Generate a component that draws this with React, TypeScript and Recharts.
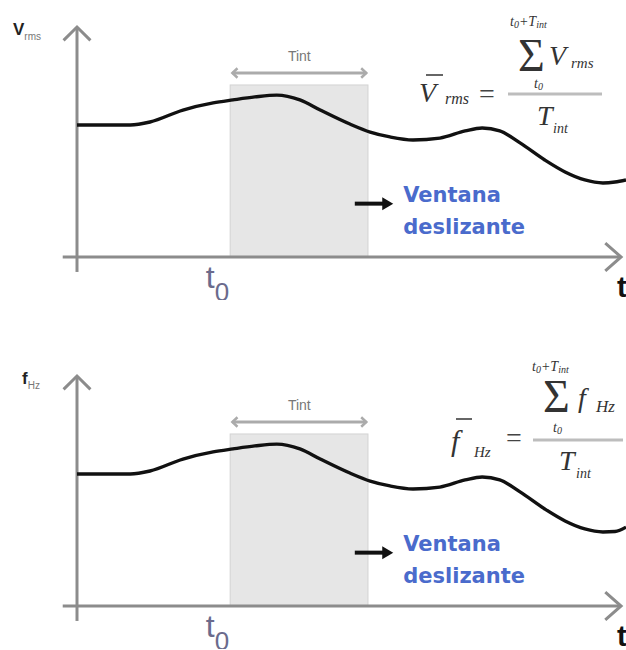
import React from 'react';
import { ComposedChart, Line, XAxis, YAxis, ReferenceLine, ReferenceArea } from 'recharts';

// time axis (arbitrary units, 0..100 across the plot)
const TIME = [0, 4.2, 9.7, 13.3, 19.3, 24.8, 28.4, 32.4, 36.4, 40.6, 44.3, 49.7, 53.4, 57.0, 61.2, 66.1, 70.7, 73.8, 77.0, 80.7, 85.2, 88.9, 92.5, 95.8, 98.0, 100];
// top panel: RMS voltage
const V_RMS = [57.4, 57.4, 57.4, 58.7, 63.9, 67.0, 68.3, 69.6, 70.4, 68.3, 63.9, 57.8, 54.3, 52.2, 50.9, 51.7, 54.8, 56.1, 54.8, 49.6, 42.2, 37.0, 33.5, 32.2, 32.6, 33.5];
// bottom panel: frequency
const F_HZ = [57.4, 57.4, 57.4, 58.7, 63.9, 67.0, 68.3, 69.6, 70.4, 68.3, 63.9, 57.8, 54.3, 52.2, 50.9, 51.7, 54.8, 56.1, 54.8, 49.6, 42.2, 37.0, 33.5, 32.2, 32.4, 34.3];

// sliding window
const WINDOW_START = 27.9;
const WINDOW_END = 53.0;
const WINDOW_TOP = 74.8;
const TINT_LEVEL = 80;
const ARROW_FROM = 50.6;
const ARROW_TO = 57.6;
const ARROW_LEVEL = 23.2;

const SANS = 'Liberation Sans, Arimo, Arial, sans-serif';
const SERIF = 'Liberation Serif, Tinos, DejaVu Serif, serif';
const AXIS = '#8c8c8c';

function chevron(x: number, y: number, ang: number, len: number, spread: number) {
  const a1 = ang + Math.PI - spread;
  const a2 = ang + Math.PI + spread;
  return `${x + len * Math.cos(a1)},${y + len * Math.sin(a1)} ${x},${y} ${x + len * Math.cos(a2)},${y + len * Math.sin(a2)}`;
}

const yAxisShape = (main: string, sub: string, mainDx: number) => (p: any) => {
  const { x1, y1, x2, y2 } = p;
  const ang = Math.atan2(y2 - y1, x2 - x1);
  return (
    <g>
      <line x1={x1} y1={y1} x2={x2} y2={y2} stroke={AXIS} strokeWidth={3} />
      <polyline points={chevron(x2, y2, ang, 19, Math.PI / 4)} fill="none" stroke={AXIS} strokeWidth={3} />
      <text x={x2 - 64 + mainDx} y={y2 + 8} fontFamily={SANS} fontSize={17} fontWeight="bold" fill="#222">
        {main}
        <tspan fontSize={10} fontWeight="normal" fill="#777" dy={5}>{sub}</tspan>
      </text>
    </g>
  );
};

const xAxisShape = (p: any) => {
  const { x1, y1, x2, y2 } = p;
  const ang = Math.atan2(y2 - y1, x2 - x1);
  return (
    <g>
      <line x1={x1} y1={y1} x2={x2} y2={y2} stroke={AXIS} strokeWidth={3} />
      <polyline points={chevron(x2, y2, ang, 21, 0.72)} fill="none" stroke={AXIS} strokeWidth={3} />
      <text x={x2 - 4} y={y2 + 40} fontFamily={SANS} fontSize={29} fontWeight="bold" fill="#111">t</text>
    </g>
  );
};

const tintShape = (p: any) => {
  const { x1, y1, x2, y2 } = p;
  return (
    <g>
      <line x1={x1} y1={y1} x2={x2} y2={y2} stroke="#ababab" strokeWidth={3} />
      <polyline points={chevron(x1, y1, Math.PI, 7, 0.75)} fill="none" stroke="#ababab" strokeWidth={2.5} />
      <polyline points={chevron(x2, y2, 0, 7, 0.75)} fill="none" stroke="#ababab" strokeWidth={2.5} />
      <text x={(x1 + x2) / 2} y={y1 - 12} textAnchor="middle" fontFamily={SANS} fontSize={14} fill="#777">Tint</text>
    </g>
  );
};

const ventanaShape = (p: any) => {
  const { x1, y1, x2 } = p;
  return (
    <g>
      <line x1={x1} y1={y1} x2={x2 - 8} y2={y1} stroke="#111" strokeWidth={4} />
      <polygon points={`${x2},${y1} ${x2 - 11},${y1 - 6.5} ${x2 - 11},${y1 + 6.5}`} fill="#111" />
      <text x={x2 + 10} y={y1 - 2} fontFamily="DejaVu Sans, sans-serif" fontSize={21} fontWeight="bold" fill="#4a6bcc">Ventana</text>
      <text x={x2 + 10} y={y1 + 30} fontFamily="DejaVu Sans, sans-serif" fontSize={21} fontWeight="bold" fill="#4a6bcc">deslizante</text>
    </g>
  );
};

const windowShape = (p: any) => {
  const { x, y, width, height } = p;
  return (
    <g>
      <rect x={x} y={y} width={width} height={height} fill="#e6e6e6" stroke="#d3d3d3" strokeWidth={1} />
      <text x={x - 1} y={y + height + 31} textAnchor="end" fontFamily={SANS} fontSize={32} fill="#6b6b8c">
        t<tspan fontSize={26} dy={13}>0</tspan>
      </text>
    </g>
  );
};

function Panel({ values, main, sub, mainDx }: { values: number[]; main: string; sub: string; mainDx: number }) {
  const data = TIME.map((t, i) => ({ t, v: values[i] }));
  return (
    <ComposedChart width={626} height={300} data={data} margin={{ top: 27, right: 0, bottom: 43, left: 77 }}>
      <XAxis dataKey="t" type="number" domain={[0, 100]} hide />
      <YAxis type="number" domain={[0, 100]} hide />
      <ReferenceArea x1={WINDOW_START} x2={WINDOW_END} y1={0} y2={WINDOW_TOP} ifOverflow="visible" shape={windowShape} />
      <ReferenceLine segment={[{ x: -2.6, y: 0 }, { x: 99.1, y: 0 }]} ifOverflow="visible" shape={xAxisShape} />
      <ReferenceLine segment={[{ x: 0, y: -6.5 }, { x: 0, y: 100 }]} ifOverflow="visible" shape={yAxisShape(main, sub, mainDx)} />
      <ReferenceLine segment={[{ x: WINDOW_START + 0.4, y: TINT_LEVEL }, { x: WINDOW_END - 0.3, y: TINT_LEVEL }]} ifOverflow="visible" shape={tintShape} />
      <ReferenceLine segment={[{ x: ARROW_FROM, y: ARROW_LEVEL }, { x: ARROW_TO, y: ARROW_LEVEL }]} ifOverflow="visible" shape={ventanaShape} />
      <Line dataKey="v" type="monotone" stroke="#111" strokeWidth={3.4} dot={false} isAnimationActive={false} />
    </ComposedChart>
  );
}

function Formulas() {
  const t = { fontFamily: SERIF, fill: '#333', fontStyle: 'italic' as const };
  return (
    <svg width={626} height={650} style={{ position: 'absolute', left: 0, top: 0, pointerEvents: 'none' }}>
      {/* top formula */}
      <text x={419} y={102} fontSize={28} {...t}>V</text>
      <line x1={426} x2={443} y1={75} y2={75} stroke="#333" strokeWidth={1.5} />
      <text x={445} y={104} fontSize={16} {...t}>rms</text>
      <text x={479} y={103} fontSize={28} fontFamily={SERIF} fill="#444">=</text>
      <line x1={508} x2={602} y1={94} y2={94} stroke="#bdbdbd" strokeWidth={3} />
      <text x={518} y={71} fontSize={46} fontFamily={SERIF} fill="#333">Σ</text>
      <text x={549} y={65} fontSize={28} {...t}>V</text>
      <text x={571} y={68} fontSize={15} {...t}>rms</text>
      <text x={510} y={26} fontSize={14} {...t}>t<tspan fontSize={10} dy={2}>0</tspan><tspan fontSize={14} dy={-2}>+T</tspan><tspan fontSize={10} dy={2}>int</tspan></text>
      <text x={534} y={88} fontSize={14} {...t}>t<tspan fontSize={10} dy={2}>0</tspan></text>
      <text x={537} y={125} fontSize={28} {...t}>T</text>
      <text x={553} y={133} fontSize={14} {...t}>int</text>

      {/* bottom formula */}
      <text x={451} y={451} fontSize={30} {...t}>f</text>
      <line x1={456} x2={472} y1={419} y2={419} stroke="#333" strokeWidth={1.5} />
      <text x={474} y={457} fontSize={15} {...t}>Hz</text>
      <text x={506} y={447} fontSize={28} fontFamily={SERIF} fill="#444">=</text>
      <line x1={533} x2={623} y1={440} y2={440} stroke="#bdbdbd" strokeWidth={3} />
      <text x={543} y={412} fontSize={46} fontFamily={SERIF} fill="#333">Σ</text>
      <text x={578} y={407} fontSize={28} {...t}>f</text>
      <text x={596} y={412} fontSize={17} {...t}>Hz</text>
      <text x={532} y={371} fontSize={14} {...t}>t<tspan fontSize={10} dy={2}>0</tspan><tspan fontSize={14} dy={-2}>+T</tspan><tspan fontSize={10} dy={2}>int</tspan></text>
      <text x={553} y={432} fontSize={14} {...t}>t<tspan fontSize={10} dy={2}>0</tspan></text>
      <text x={559} y={470} fontSize={28} {...t}>T</text>
      <text x={576} y={478} fontSize={14} {...t}>int</text>
    </svg>
  );
}

export default function App() {
  return (
    <div style={{ position: 'absolute', left: 0, top: 0, width: 626, height: 650, background: '#fff', overflow: 'hidden' }}>
      <div style={{ position: 'absolute', left: 0, top: 0 }}>
        <Panel values={V_RMS} main="V" sub="rms" mainDx={0} />
      </div>
      <div style={{ position: 'absolute', left: 0, top: 349 }}>
        <Panel values={F_HZ} main="f" sub="Hz" mainDx={9} />
      </div>
      <Formulas />
    </div>
  );
}
